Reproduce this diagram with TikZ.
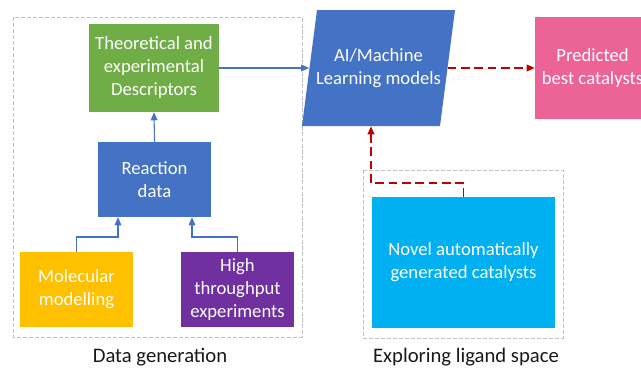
\documentclass[tikz,border=0pt]{standalone}
\usepackage{fontspec}
\setmainfont{Carlito}
\usetikzlibrary{arrows.meta}
\definecolor{cgreen}{HTML}{70AD47}
\definecolor{cblue}{HTML}{4472C4}
\definecolor{cyellow}{HTML}{FFC000}
\definecolor{cpurple}{HTML}{7030A0}
\definecolor{ccyan}{HTML}{00B0F0}
\definecolor{cpink}{HTML}{EC6496}
\definecolor{cred}{HTML}{C00000}
\definecolor{cgray}{HTML}{BFBFBF}
\begin{document}
\begin{tikzpicture}[x=0.75pt,y=-0.75pt,
  box/.style={rectangle, draw=none, text=white, align=center, inner sep=0pt,
    font=\fontsize{14}{17.25}\selectfont},
  grpbox/.style={draw=cgray, line width=0.6pt, dash pattern=on 3pt off 1.5pt},
  barrow/.style={draw=cblue, line width=0.8pt, -{Triangle[length=6pt,width=5pt]}},
  rarrow/.style={draw=cred, line width=1.1pt, dash pattern=on 6.5pt off 3.5pt, -{Triangle[length=6pt,width=5pt]}},
  lbl/.style={font=\fontsize{15.5}{18}\selectfont, text=black!90, inner sep=0pt}]
\useasboundingbox (0,0) rectangle (641,369);
\begin{scope}
\clip (0,0) rectangle (641,369);
% group boxes
\draw[grpbox] (13,17) rectangle (302,337);
\draw[grpbox] (363,170) rectangle (563,338);
% nodes
\node[box, fill=cgreen, minimum width=130*0.75pt, minimum height=88*0.75pt] (desc) at (154,68) {Theoretical and\\experimental\\Descriptors};
\node[box, fill=cblue, minimum width=113*0.75pt, minimum height=75*0.75pt] (rd) at (154.5,179.5) {Reaction\\data};
\node[box, fill=cyellow, minimum width=113*0.75pt, minimum height=75*0.75pt] (mm) at (76.5,289.5) {Molecular\\modelling};
\node[box, fill=cpurple, minimum width=113*0.75pt, minimum height=75*0.75pt] (ht) at (237.5,289.5) {High\\throughput\\experiments};
\fill[cblue] (317,10) -- (455,10) -- (440,126) -- (302,126) -- cycle;
\node[box, minimum width=138*0.75pt, minimum height=116*0.75pt] (ai) at (378.5,68) {AI/Machine\\Learning models};
\fill[cpink] (535,17) rectangle (650,119);
\node[box, minimum width=115*0.75pt, minimum height=102*0.75pt] (pb) at (592.5,68) {Predicted\\best catalysts};
\node[box, fill=ccyan, minimum width=183*0.75pt, minimum height=131*0.75pt] (nov) at (463.5,262.5) {Novel automatically\\generated catalysts};
% connectors
\coordinate (j1) at (118,237);
\coordinate (j2) at (192,237);
\coordinate (j3) at (371,183);
\draw[barrow] (mm.north) |- (j1) -- (j1 |- rd.south);
\draw[barrow] (ht.north) |- (j2) -- (j2 |- rd.south);
\draw[barrow] (rd.north) -- (desc.south);
\draw[barrow] (desc.east) -- (ai.west);
\draw[rarrow] (ai.east) -- (pb.west);
\draw[rarrow] (nov.north) |- (j3) -- (j3 |- ai.south);
% labels
\node[lbl] (l1) at (160,357) {Data generation};
\node[lbl] (l2) at (466,357) {Exploring ligand space};
\end{scope}
\end{tikzpicture}
\end{document}
